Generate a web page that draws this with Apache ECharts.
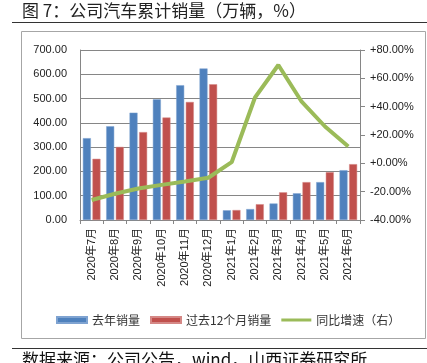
<!DOCTYPE html>
<html><head><meta charset="utf-8">
<script src="https://cdn.jsdelivr.net/npm/echarts@6/dist/echarts.min.js"></script>
<style>html,body{margin:0;padding:0;background:#fff}#c{width:427px;height:363px}</style>
</head><body><div id="c"></div>
<script>
var categories = ['2020年7月','2020年8月','2020年9月','2020年10月','2020年11月','2020年12月','2021年1月','2021年2月','2021年3月','2021年4月','2021年5月','2021年6月'];
var lastYearSales = [337, 386, 442, 497, 555, 624, 40, 45, 68, 110, 156, 205];
var past12Sales = [252, 301, 362, 422, 486, 559, 41, 65, 114, 156, 197, 230];
var growthRate = [-25.9, -21.5, -17.8, -15.2, -12.8, -10.2, 0.8, 46.5, 69.4, 43.5, 26.0, 11.9];
var leftTicks = {min: 0, max: 700, interval: 100};
var rightTicks = {min: -40, max: 80, interval: 20};

var chart = echarts.init(document.getElementById('c'), null, {renderer: 'canvas'});
var axisColor = '#868686';
var fontLat = 'Liberation Sans, Noto Sans CJK SC, sans-serif';
var fontCJK = 'Noto Sans CJK SC, sans-serif';
chart.setOption({
  animation: false,
  graphic: [
    {type: 'text', left: 22, top: 2, style: {text: '图 7：公司汽车累计销量（万辆，%）', font: '17px ' + fontCJK, fill: '#222'}},
    {type: 'line', shape: {x1: 12, y1: 22.5, x2: 427, y2: 22.5}, style: {stroke: '#333', lineWidth: 1}},
    {type: 'rect', shape: {x: 21.5, y: 31.5, width: 404, height: 307}, style: {stroke: '#a6a6a6', fill: 'none', lineWidth: 1}},
    {type: 'line', shape: {x1: 12, y1: 348.5, x2: 427, y2: 348.5}, style: {stroke: '#333', lineWidth: 1}},
    {type: 'text', left: 22, top: 351, style: {text: '数据来源：公司公告，wind，山西证券研究所', font: '17px ' + fontCJK, fill: '#111'}}
  ],
  grid: {left: 80, right: 67, top: 50, bottom: 143, containLabel: false},
  legend: {
    left: 51, top: 309, itemWidth: 30, itemHeight: 6, itemGap: 10,
    textStyle: {fontFamily: fontCJK, fontSize: 12, color: '#333'},
    data: [
      {name: '去年销量', icon: 'rect'},
      {name: '过去12个月销量', icon: 'rect'},
      {name: '同比增速（右）', icon: 'path://M0,0L30,0L30,3L0,3Z'}
    ]
  },
  xAxis: {
    type: 'category', data: categories,
    axisLine: {lineStyle: {color: axisColor}},
    axisTick: {show: true, length: 4, lineStyle: {color: axisColor}},
    axisLabel: {rotate: 90, fontFamily: fontLat, fontSize: 11, color: '#222', margin: 8, interval: 0}
  },
  yAxis: [
    {type: 'value', min: leftTicks.min, max: leftTicks.max, interval: leftTicks.interval,
     axisLine: {show: true, lineStyle: {color: axisColor}},
     axisTick: {show: false},
     splitLine: {lineStyle: {color: axisColor, width: 1}},
     axisLabel: {formatter: function (v) { return v.toFixed(2); }, fontFamily: fontLat, fontSize: 11, color: '#222', margin: 13}},
    {type: 'value', min: rightTicks.min, max: rightTicks.max, interval: rightTicks.interval,
     axisLine: {show: true, lineStyle: {color: axisColor}},
     axisTick: {show: true, length: 5, lineStyle: {color: axisColor}},
     splitLine: {show: false},
     axisLabel: {formatter: function (v) { return (v >= 0 ? '+' : '') + v.toFixed(2) + '%'; }, fontFamily: fontLat, fontSize: 11, color: '#222', margin: 10}}
  ],
  series: [
    {name: '去年销量', type: 'bar', data: lastYearSales, barWidth: 8, barGap: '20%',
     itemStyle: {color: '#4F81BD', borderColor: '#7fa3d1', borderWidth: 0.5}},
    {name: '过去12个月销量', type: 'bar', data: past12Sales, barWidth: 8,
     itemStyle: {color: '#C0504D', borderColor: '#d58886', borderWidth: 0.5}},
    {name: '同比增速（右）', type: 'line', yAxisIndex: 1, data: growthRate, symbol: 'none',
     lineStyle: {color: '#9BBB59', width: 4}, itemStyle: {color: '#9BBB59'}}
  ]
});
</script></body></html>
